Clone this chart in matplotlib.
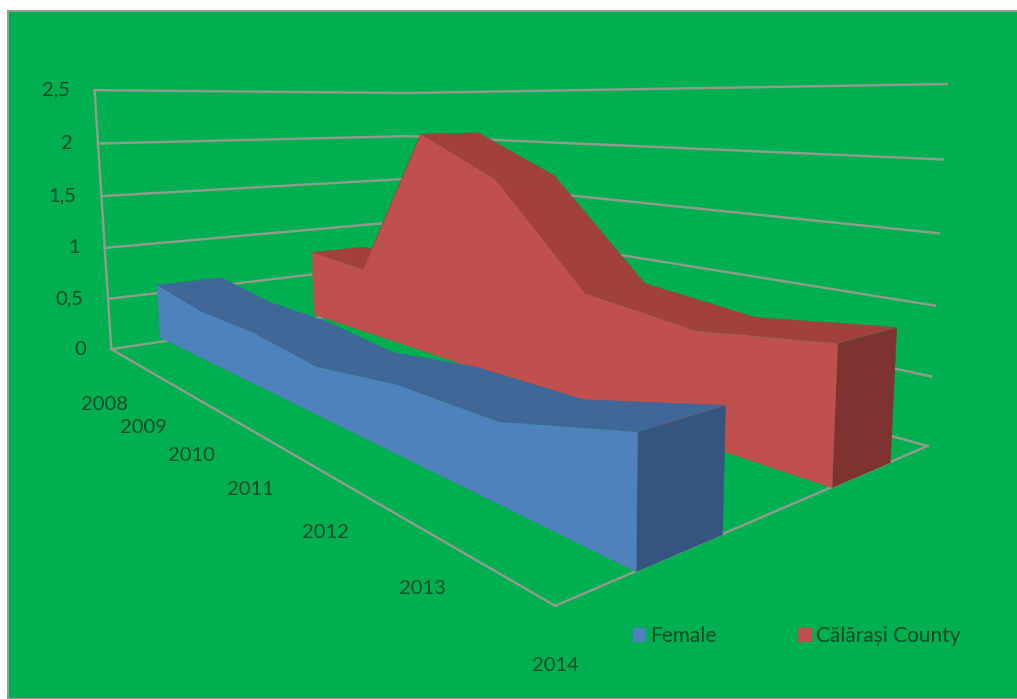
import matplotlib
matplotlib.use("Agg")
import matplotlib.pyplot as plt
from matplotlib.patches import Patch, Rectangle
from mpl_toolkits.mplot3d import proj3d
from mpl_toolkits.mplot3d.art3d import Poly3DCollection

# data
years = ["2008", "2009", "2010", "2011", "2012", "2013", "2014"]
female = [0.54, 0.45, 0.45, 0.38, 0.49, 0.51, 0.74]
calarasi = [0.71, 0.66, 2.09, 1.73, 0.9, 0.8, 0.92]
z_ticks = [0, 0.5, 1, 1.5, 2, 2.5]
z_labels = ["0", "0,5", "1", "1,5", "2", "2,5"]

GREEN = "#00AF50"
GRID = "#8E9C8C"
TEXT = "#0B4A28"

plt.rcParams["font.family"] = ["Lato", "DejaVu Sans"]

fig = plt.figure(figsize=(10.17, 6.99), dpi=100, facecolor="white")
fig.add_artist(Rectangle((8 / 1017, 0), 1.1, 1 - 11 / 699, transform=fig.transFigure,
                         facecolor=GREEN, edgecolor="#9A9A9A", linewidth=1.5, zorder=-1))

# camera worked out from the vanishing points of the walls
ax = fig.add_axes([14.5 / 1017, -95.5 / 699, 1070 / 1017, 1070 / 699], projection="3d")
ax.patch.set_alpha(0)
ax.computed_zorder = False
ax.set_xticks([])
ax.set_yticks([])
ax.set_zticks([])
ax.set_proj_type("persp", focal_length=0.1724)
ax.view_init(elev=8, azim=-41)
ax.set_box_aspect((2.827, 1.451, 1.059))
ax.set_xlim(4.247 - 3, 4.247 + 3, view_margin=0)
ax.set_ylim(0.511 - 0.5, 0.511 + 0.5, view_margin=0)
ax.set_zlim(1.367 - 1.25, 1.367 + 1.25, view_margin=0)
ax.set_axis_off()

last = len(years) - 1
# the categories start a little before the corner of the floor
xs = [-0.2 + i * (last + 0.2) / last for i in range(len(years))]


def draw_band(values, y0, y1, front, top, side, z):
    n = len(values)
    # top strip
    tops = [[(xs[i], y0, values[i]), (xs[i + 1], y0, values[i + 1]),
             (xs[i + 1], y1, values[i + 1]), (xs[i], y1, values[i])] for i in range(n - 1)]
    ax.add_collection3d(Poly3DCollection(tops, facecolor=top, edgecolor=top, linewidth=0.3, zorder=z))
    # end of the band
    end = [[(xs[-1], y0, 0), (xs[-1], y1, 0), (xs[-1], y1, values[-1]), (xs[-1], y0, values[-1])]]
    ax.add_collection3d(Poly3DCollection(end, facecolor=side, edgecolor=side, linewidth=0.3, zorder=z + 1))
    # front face
    face = [[(xs[0], y0, 0)] + [(xs[i], y0, values[i]) for i in range(n)] + [(xs[-1], y0, 0)]]
    ax.add_collection3d(Poly3DCollection(face, facecolor=front, edgecolor=front, linewidth=0.3, zorder=z + 2))


# gridlines on the two walls
for t in z_ticks:
    ax.plot([0, 0, last], [0, 1, 1], [t, t, t], color=GRID, lw=1.8, zorder=1)
ax.plot([0, 0], [0, 0], [0, z_ticks[-1]], color=GRID, lw=1.8, zorder=1)
ax.plot([0, last, last], [0, 0, 1], [0, 0, 0], color=GRID, lw=1.8, zorder=1)

draw_band(calarasi, 0.662, 0.858, "#C0504D", "#A2403E", "#7F3331", 5)
draw_band(female, 0.158, 0.356, "#4F81BD", "#3F6797", "#34557F", 10)

# tick labels sit at a fixed offset from the projected axis
M = ax.get_proj()
for x, lab in zip(xs, years):
    px, py, _ = proj3d.proj_transform(x, 0, 0, M)
    ax.annotate(lab, (px, py), xytext=(0, -43), textcoords="offset points", annotation_clip=False,
                color=TEXT, fontsize=14.5, ha="center", va="center")
for t, lab in zip(z_ticks, z_labels):
    px, py, _ = proj3d.proj_transform(0, 0, t, M)
    ax.annotate(lab, (px, py), xytext=(-18, 0), textcoords="offset points", annotation_clip=False,
                color=TEXT, fontsize=14.5, ha="right", va="center")

fig.legend(handles=[Patch(color="#4F81BD", label="Female"),
                    Patch(color="#C0504D", label="Călărași County")],
           ncol=2, frameon=False, fontsize=15, labelcolor=TEXT,
           handlelength=0.6, handleheight=0.6, handletextpad=0.25, columnspacing=3.9,
           loc="center left", bbox_to_anchor=(614 / 1017, 1 - 636 / 699))

fig.savefig("out.png", dpi=100)
